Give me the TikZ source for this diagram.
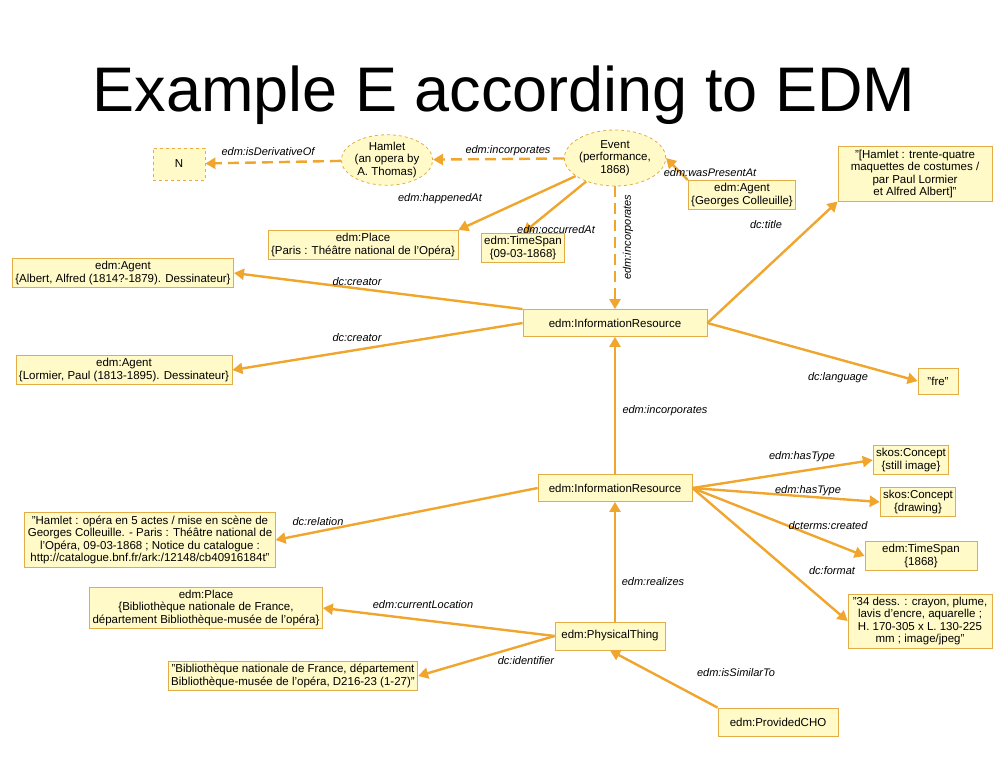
\documentclass[tikz,border=0pt]{standalone}
\usepackage{fontspec}
\setmainfont{Liberation Sans}
\usetikzlibrary{shapes.geometric,arrows.meta}
\definecolor{fillc}{RGB}{255,250,200}
\definecolor{bord}{RGB}{228,172,70}
\definecolor{arr}{RGB}{240,165,45}
\tikzset{
 bx/.style={draw=bord,fill=fillc,line width=0.8pt,align=center,font=\fontsize{11.5}{12.5}\selectfont,inner sep=3pt},
 el/.style={ellipse,draw=bord,fill=fillc,dashed,line width=0.8pt,align=center,font=\fontsize{11.5}{12.5}\selectfont,inner sep=0pt},
 ed/.style={draw=arr,line width=2.4pt,-{Triangle[length=10pt,width=11pt]}},
 dd/.style={ed,dash pattern=on 11pt off 6pt},
 lb/.style={font=\itshape\fontsize{11}{12}\selectfont,inner sep=0pt}
}
\begin{document}
\begin{tikzpicture}[x=1pt,y=-1pt]
\useasboundingbox (0,0) rectangle (1008,756);
\node[font=\fontsize{63}{63}\selectfont] at (504,95) {Example E according to EDM};
\node[bx,dashed,minimum width=52pt,minimum height=32pt] (N) at (179,164) {N};
\node[el,minimum width=90pt,minimum height=50pt] (ham) at (387,160) {Hamlet\\(an opera by\\A. Thomas)};
\node[el,minimum width=92pt,minimum height=56pt] (ev) at (615,158) {Event\\(performance,\\1868)};
\node[bx] (ag1) at (742,195) {edm:Agent\\\{Georges Colleuille\}};
\node[bx,minimum width=154pt] (tit) at (915,174) {"[Hamlet : trente-quatre\\maquettes de costumes /\\par Paul Lormier\\et Alfred Albert]"};
\node[bx] (pl1) at (363,245) {edm:Place\\\{Paris : Théâtre national de l'Opéra\}};
\node[bx] (ts1) at (523,248) {edm:TimeSpan\\\{09-03-1868\}};
\node[bx] (ag2) at (123,273) {edm:Agent\\\{Albert, Alfred (1814?-1879). Dessinateur\}};
\node[bx,minimum width=184pt,minimum height=27pt] (ir1) at (615,323) {edm:InformationResource};
\node[bx] (ag3) at (124,370) {edm:Agent\\\{Lormier, Paul (1813-1895). Dessinateur\}};
\node[bx,minimum width=40pt,minimum height=26pt] (fre) at (938,381) {"fre"};
\node[bx] (sk1) at (911,460) {skos:Concept\\\{still image\}};
\node[bx] (sk2) at (918,502) {skos:Concept\\\{drawing\}};
\node[bx,minimum width=154pt,minimum height=27pt] (ir2) at (615,488) {edm:InformationResource};
\node[bx] (hq) at (150,540) {"Hamlet : opéra en 5 actes / mise en scène de\\Georges Colleuille. - Paris : Théâtre national de\\l'Opéra, 09-03-1868 ; Notice du catalogue :\\http://catalogue.bnf.fr/ark:/12148/cb40916184t"};
\node[bx,minimum width=112pt] (ts2) at (921,556) {edm:TimeSpan\\\{1868\}};
\node[bx,minimum width=144pt] (fmt) at (920,621) {"34 dess. : crayon, plume,\\lavis d'encre, aquarelle ;\\H. 170-305 x L. 130-225\\mm ; image/jpeg"};
\node[bx] (pl2) at (206,608) {edm:Place\\\{Bibliothèque nationale de France,\\département Bibliothèque-musée de l'opéra\}};
\node[bx,minimum width=110pt,minimum height=28pt] (pt) at (610,636) {edm:PhysicalThing};
\node[bx] (bq) at (293,676) {"Bibliothèque nationale de France, département\\Bibliothèque-musée de l'opéra, D216-23 (1-27)"};
\node[bx,minimum width=120pt,minimum height=28pt] (cho) at (778,722) {edm:ProvidedCHO};

\draw[dd] (ham) -- (N);
\draw[dd] (ev) -- (ham);
\draw[ed] (ev) -- (pl1.north east);
\draw[ed] (ev) -- (ts1.north);
\draw[dd] (ev.south) -- (ir1.north);
\draw[ed] (ag1.north west) -- (ev.east);
\draw[ed] (ir1.east) -- (tit.south west);
\draw[ed] (ir1.north west) -- (ag2.east);
\draw[ed] (ir1.west) -- (ag3.east);
\draw[ed] (ir1.east) -- (fre.west);
\draw[ed] (ir2.north) -- (ir1.south);
\draw[ed] (ir2.east) -- (sk1.west);
\draw[ed] (ir2.east) -- (sk2.west);
\draw[ed] (ir2.east) -- (ts2.west);
\draw[ed] (ir2.east) -- (fmt.west);
\draw[ed] (ir2.west) -- (hq.east);
\draw[ed] (pt.north -| ir2.south) -- (ir2.south);
\draw[ed] (pt.west) -- (pl2.east);
\draw[ed] (pt.west) -- (bq.east);
\draw[ed] (cho.north west) -- (pt.south);

\node[lb] at (268,152) {edm:isDerivativeOf};
\node[lb] at (508,151) {edm:incorporates};
\node[lb] at (440,199) {edm:happenedAt};
\node[lb] at (556,230) {edm:occurredAt};
\node[lb,rotate=90] at (628,237) {edm:incorporates};
\node[lb] at (710,173) {edm:wasPresentAt};
\node[lb] at (766,225) {dc:title};
\node[lb] at (357,282) {dc:creator};
\node[lb] at (357,338) {dc:creator};
\node[lb] at (838,378) {dc:language};
\node[lb] at (665,411) {edm:incorporates};
\node[lb] at (802,457) {edm:hasType};
\node[lb] at (808,491) {edm:hasType};
\node[lb] at (828,526) {dcterms:created};
\node[lb] at (832,571) {dc:format};
\node[lb] at (318,522) {dc:relation};
\node[lb] at (653,582) {edm:realizes};
\node[lb] at (423,605) {edm:currentLocation};
\node[lb] at (526,661) {dc:identifier};
\node[lb] at (736,673) {edm:isSimilarTo};
\end{tikzpicture}
\end{document}
